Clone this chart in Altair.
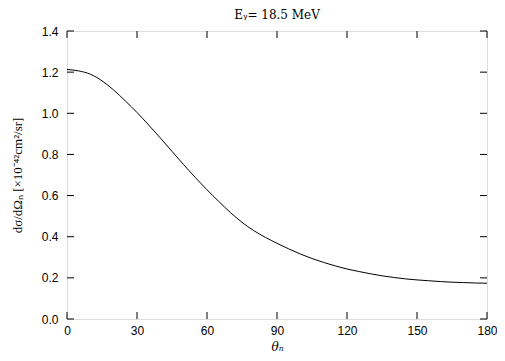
import altair as alt
import pandas as pd

theta = [0, 5, 10, 15, 20, 25, 30, 35, 40, 45, 50, 55, 60, 65, 70, 75, 80, 85, 90,
         95, 100, 105, 110, 115, 120, 125, 130, 135, 140, 145, 150, 155, 160, 165,
         170, 175, 180]
xsec = [1.213, 1.206, 1.19, 1.158, 1.113, 1.06, 1.004, 0.943, 0.88, 0.815, 0.75,
        0.688, 0.628, 0.572, 0.518, 0.47, 0.43, 0.397, 0.368, 0.341, 0.316, 0.294,
        0.275, 0.258, 0.243, 0.231, 0.22, 0.21, 0.202, 0.195, 0.19, 0.186, 0.182,
        0.179, 0.177, 0.175, 0.174]
x_ticks = [0, 30, 60, 90, 120, 150, 180]
y_ticks = [0.0, 0.2, 0.4, 0.6, 0.8, 1.0, 1.2, 1.4]

W, H = 420, 288
TL = 7

df = pd.DataFrame({"theta": theta, "xsec": xsec})
dx = pd.DataFrame({"t": x_ticks})
dy = pd.DataFrame({"t": y_ticks})

xscale = alt.Scale(domain=[0, 180], nice=False, zero=False)
yscale = alt.Scale(domain=[0, 1.4], nice=False, zero=False)

line = alt.Chart(df).mark_line(color="black", strokeWidth=1, interpolate="monotone").encode(
    x=alt.X("theta:Q", scale=xscale,
            axis=alt.Axis(values=x_ticks, format="d", tickSize=0, domain=False,
                          grid=False, labelFont="Liberation Sans", labelFontSize=12,
                          labelColor="black", labelPadding=6, labelFlush=False,
                          title="θₙ", titleFont="DejaVu Serif", titleFontStyle="italic",
                          titleFontWeight="normal", titleFontSize=12, titleColor="black",
                          titlePadding=5)),
    y=alt.Y("xsec:Q", scale=yscale,
            axis=alt.Axis(values=y_ticks, format=".1f", tickSize=0, domain=False,
                          grid=False, labelFont="Liberation Sans", labelFontSize=12,
                          labelColor="black", labelPadding=9, labelFlush=False,
                          title="dσ/dΩₙ [×10⁻⁴²cm²/sr]", titleFont="Liberation Serif",
                          titleFontWeight="normal", titleFontSize=13, titleColor="black",
                          titlePadding=17)),
)

bx = alt.Chart(dx).mark_rule(color="black", strokeWidth=1).encode(
    x=alt.X("t:Q", scale=xscale), y=alt.value(H), y2=alt.value(H - TL))
tx = alt.Chart(dx).mark_rule(color="black", strokeWidth=1).encode(
    x=alt.X("t:Q", scale=xscale), y=alt.value(0), y2=alt.value(TL))
ly = alt.Chart(dy).mark_rule(color="black", strokeWidth=1).encode(
    y=alt.Y("t:Q", scale=yscale), x=alt.value(0), x2=alt.value(TL))
ry = alt.Chart(dy).mark_rule(color="black", strokeWidth=1).encode(
    y=alt.Y("t:Q", scale=yscale), x=alt.value(W), x2=alt.value(W - TL))

chart = alt.layer(line, bx, tx, ly, ry).properties(
    width=W, height=H,
    title=alt.TitleParams("Eᵧ= 18.5 MeV", font="DejaVu Serif", fontSize=12,
                          fontWeight="normal", color="black", offset=3),
    autosize=alt.AutoSizeParams(type="none"),
    padding={"left": 59, "top": 23, "right": 10, "bottom": 34},
).configure_view(stroke="black", strokeWidth=1).configure(background="white")

chart.save("out.html", embed_options={"renderer": "svg", "actions": False})
